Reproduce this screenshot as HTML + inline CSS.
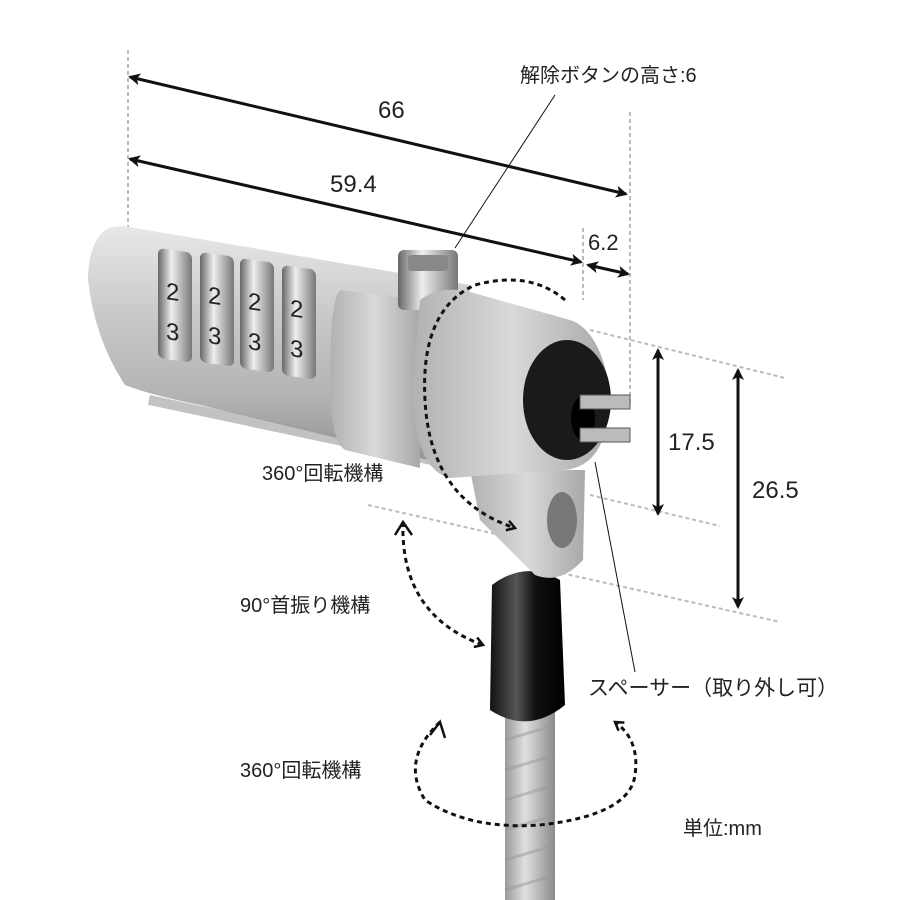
<!DOCTYPE html>
<html><head><meta charset="utf-8"><style>
body{margin:0;background:#fff}
svg{display:block}
text{font-family:"Liberation Sans","Noto Sans CJK JP",sans-serif;fill:#222}
</style></head><body>
<svg width="900" height="900" viewBox="0 0 900 900" xmlns="http://www.w3.org/2000/svg">
<defs>
<linearGradient id="sil" x1="0" y1="0" x2="0" y2="1">
<stop offset="0" stop-color="#e8e8ea"/><stop offset="0.35" stop-color="#c9cacc"/><stop offset="0.7" stop-color="#b2b3b5"/><stop offset="1" stop-color="#8d8e90"/></linearGradient>
<linearGradient id="cap" x1="0" y1="0" x2="1" y2="0">
<stop offset="0" stop-color="#b0b1b3"/><stop offset="0.5" stop-color="#d8d9db"/><stop offset="1" stop-color="#a7a8aa"/></linearGradient>
<linearGradient id="ring" x1="0" y1="0" x2="1" y2="0">
<stop offset="0" stop-color="#666"/><stop offset="0.4" stop-color="#eee"/><stop offset="1" stop-color="#777"/></linearGradient>
<linearGradient id="blk" x1="0" y1="0" x2="1" y2="0">
<stop offset="0" stop-color="#111"/><stop offset="0.35" stop-color="#555"/><stop offset="0.6" stop-color="#111"/><stop offset="1" stop-color="#000"/></linearGradient>
<linearGradient id="cab" x1="0" y1="0" x2="1" y2="0">
<stop offset="0" stop-color="#9a9a9a"/><stop offset="0.4" stop-color="#e0e0e0"/><stop offset="1" stop-color="#8a8a8a"/></linearGradient>
<marker id="ah" markerWidth="12" markerHeight="12" refX="10" refY="6" orient="auto-start-reverse" markerUnits="userSpaceOnUse"><path d="M0,0 L12,6 L0,12 L3,6z" fill="#111"/></marker>
<marker id="ah2" markerWidth="12" markerHeight="12" refX="9" refY="6" orient="auto" markerUnits="userSpaceOnUse"><path d="M1,1 L9,6 L1,11" fill="none" stroke="#111" stroke-width="2.5"/></marker>
</defs>

<g stroke="#bbb" stroke-width="2" stroke-dasharray="4,3" fill="none">
<line x1="128" y1="50" x2="128" y2="228"/>
<line x1="630" y1="112" x2="630" y2="405"/>
<line x1="583" y1="228" x2="583" y2="300"/>
<line x1="590" y1="330" x2="785" y2="378"/>
<line x1="590" y1="495" x2="720" y2="526"/>
<line x1="368" y1="505" x2="500" y2="535"/>
<line x1="548" y1="570" x2="780" y2="622"/>
</g>

<g stroke="#111" stroke-width="3" fill="none">
<line x1="130" y1="77" x2="626" y2="194" marker-end="url(#ah)" marker-start="url(#ah)"/>
<line x1="130" y1="159" x2="581" y2="262" marker-end="url(#ah)" marker-start="url(#ah)"/>
<line x1="588" y1="265" x2="628" y2="274" marker-end="url(#ah)" marker-start="url(#ah)"/>
<line x1="658" y1="350" x2="658" y2="514" marker-end="url(#ah)" marker-start="url(#ah)"/>
<line x1="738" y1="370" x2="738" y2="607" marker-end="url(#ah)" marker-start="url(#ah)"/>
</g>
<line x1="555" y1="95" x2="455" y2="248" stroke="#111" stroke-width="1"/>

<rect x="505" y="710" width="50" height="190" fill="url(#cab)"/>
<g stroke="#999" stroke-width="3" opacity="0.5">
<line x1="505" y1="740" x2="555" y2="725"/><line x1="505" y1="770" x2="555" y2="755"/>
<line x1="505" y1="800" x2="555" y2="785"/><line x1="505" y1="830" x2="555" y2="815"/>
<line x1="505" y1="860" x2="555" y2="845"/><line x1="505" y1="890" x2="555" y2="875"/>
</g>
<path d="M492,585 Q525,560 560,580 L565,705 Q528,735 490,710 Z" fill="url(#blk)"/>
<path d="M470,470 L585,470 L583,560 Q560,585 535,575 L480,520 Z" fill="url(#cap)"/>
<ellipse cx="562" cy="520" rx="15" ry="28" fill="#777"/>
<path d="M100,235 Q110,222 135,228 L470,285 L470,470 L200,405 Q150,395 125,385 Q95,340 88,280 Q88,250 100,235 Z" fill="url(#sil)"/>
<g fill="#9a9b9d" opacity="0.6">
<rect x="150" y="395" width="320" height="10" transform="rotate(12 150 395)"/>
</g>
<g>
<g transform="translate(158,248) skewY(8)"><rect width="34" height="110" rx="6" fill="url(#ring)"/><text x="8" y="50" font-size="24" fill="#111">2</text><text x="8" y="90" font-size="24" fill="#111">3</text></g>
<g transform="translate(200,252) skewY(8)"><rect width="34" height="110" rx="6" fill="url(#ring)"/><text x="8" y="50" font-size="24" fill="#111">2</text><text x="8" y="90" font-size="24" fill="#111">3</text></g>
<g transform="translate(240,258) skewY(8)"><rect width="34" height="110" rx="6" fill="url(#ring)"/><text x="8" y="50" font-size="24" fill="#111">2</text><text x="8" y="90" font-size="24" fill="#111">3</text></g>
<g transform="translate(282,265) skewY(8)"><rect width="34" height="110" rx="6" fill="url(#ring)"/><text x="8" y="50" font-size="24" fill="#111">2</text><text x="8" y="90" font-size="24" fill="#111">3</text></g>
</g>
<path d="M340,290 Q330,300 330,380 Q330,440 345,450 L420,468 L420,300 Z" fill="url(#cap)"/>
<rect x="398" y="250" width="60" height="60" rx="6" fill="url(#ring)"/>
<rect x="408" y="255" width="40" height="16" rx="3" fill="#888"/>
<path d="M420,300 Q440,285 470,292 L570,320 Q600,330 610,390 Q610,470 560,470 L450,478 Q415,470 412,390 Z" fill="url(#cap)"/>
<ellipse cx="567" cy="400" rx="44" ry="60" fill="#1a1a1a"/>
<ellipse cx="583" cy="418" rx="12" ry="22" fill="#000"/>
<rect x="580" y="395" width="50" height="14" fill="#bbb" stroke="#555"/>
<rect x="580" y="428" width="50" height="14" fill="#bbb" stroke="#555"/>
<line x1="595" y1="462" x2="635" y2="672" stroke="#111" stroke-width="1"/>

<g stroke="#111" stroke-width="3" stroke-dasharray="5,4" fill="none">
<path d="M565,300 Q530,270 475,285 Q420,310 425,400 Q430,500 515,528" marker-end="url(#ah2)"/>
<path d="M403,522 Q400,615 483,645" marker-end="url(#ah2)"/>
<path d="M440,722 Q400,760 425,800 Q470,830 540,825 Q630,815 635,775 Q640,740 615,722" marker-end="url(#ah2)"/>
</g>
<path d="M395,535 L403,522 L412,535" fill="none" stroke="#111" stroke-width="2.5"/>
<path d="M430,735 L440,722 L445,738" fill="none" stroke="#111" stroke-width="2.5"/>

<text x="520" y="82" font-size="20">解除ボタンの高さ:6</text>
<text x="378" y="118" font-size="24">66</text>
<text x="330" y="192" font-size="24">59.4</text>
<text x="588" y="250" font-size="22">6.2</text>
<text x="668" y="450" font-size="24">17.5</text>
<text x="752" y="498" font-size="24">26.5</text>
<text x="262" y="480" font-size="20">360°回転機構</text>
<text x="240" y="612" font-size="20">90°首振り機構</text>
<text x="588" y="695" font-size="21">スペーサー（取り外し可）</text>
<text x="240" y="777" font-size="20">360°回転機構</text>
<text x="683" y="835" font-size="20">単位:mm</text>
</svg>
</body></html>
